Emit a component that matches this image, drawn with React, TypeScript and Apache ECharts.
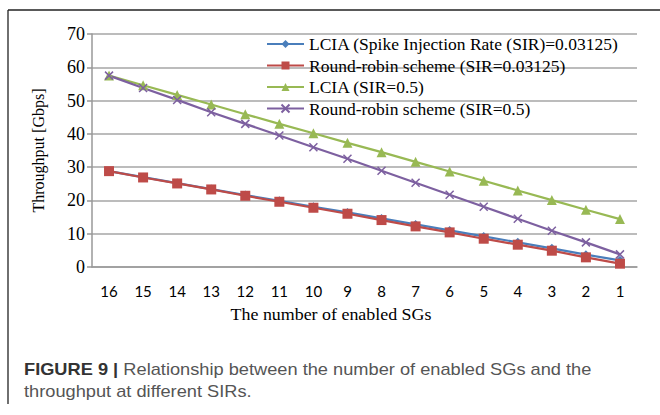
import React, { useEffect, useRef } from "react";
import * as echarts from "echarts";

const categories = ["16", "15", "14", "13", "12", "11", "10", "9", "8", "7", "6", "5", "4", "3", "2", "1"];
const lciaLow = [28.8, 27.0, 25.2, 23.4, 21.6, 19.9, 18.1, 16.4, 14.6, 12.8, 11.0, 9.2, 7.4, 5.6, 3.7, 2.0];
const rrLow = [28.8, 26.9, 25.1, 23.3, 21.4, 19.6, 17.8, 16.0, 14.1, 12.2, 10.4, 8.5, 6.7, 4.9, 2.9, 1.0];
const lciaHigh = [57.5, 54.6, 51.7, 48.8, 45.9, 43.0, 40.2, 37.3, 34.5, 31.6, 28.7, 25.9, 23.0, 20.1, 17.2, 14.4];
const rrHigh = [57.5, 53.8, 50.2, 46.5, 43.0, 39.5, 36.0, 32.5, 28.9, 25.3, 21.7, 18.1, 14.5, 10.9, 7.4, 3.8];
const seriesNames = [
  "LCIA (Spike Injection Rate (SIR)=0.03125)",
  "Round-robin scheme (SIR=0.03125)",
  "LCIA (SIR=0.5)",
  "Round-robin scheme (SIR=0.5)",
];
const yTicks = { min: 0, max: 70, interval: 10 };

const serif = "'Liberation Serif', 'Times New Roman', serif";
const sans = "'Liberation Sans', Arial, sans-serif";
const xSymbol = "path://M0,0L10,10M10,0L0,10";

export default function App() {
  const ref = useRef<HTMLDivElement>(null);
  useEffect(() => {
    document.body.style.margin = "0";
    const chart = echarts.init(ref.current!, undefined, { renderer: "svg" });
    const mk = (name: string, data: number[], color: string, symbol: string, size: number, extra: any = {}) => ({
      name,
      type: "line",
      data,
      symbol,
      symbolSize: size,
      showSymbol: true,
      lineStyle: { color, width: 2.2 },
      itemStyle: { color, ...extra },
      emphasis: { disabled: true },
    });
    chart.setOption({
      animation: false,
      backgroundColor: "#ffffff",
      grid: { left: 92, right: 23, top: 34, bottom: 148 },
      legend: {
        orient: "vertical",
        left: 261,
        top: 30,
        itemWidth: 37,
        itemHeight: 10,
        itemGap: 3.5,
        textStyle: { fontFamily: serif, fontSize: 17.5, color: "#000" },
        data: seriesNames,
      },
      xAxis: {
        type: "category",
        data: categories,
        boundaryGap: true,
        axisLine: { lineStyle: { color: "#999", width: 1.5 } },
        axisTick: { show: false },
        axisLabel: { fontFamily: "Lato, 'Open Sans', sans-serif", fontSize: 15, color: "#000", margin: 16 },
      },
      yAxis: {
        type: "value",
        min: yTicks.min,
        max: yTicks.max,
        interval: yTicks.interval,
        name: "Throughput [Gbps]",
        nameLocation: "middle",
        nameGap: 46,
        nameTextStyle: { fontFamily: serif, fontSize: 16, color: "#000" },
        axisLine: { show: true, lineStyle: { color: "#999", width: 1.5 } },
        axisTick: { show: true, inside: false, length: 5, lineStyle: { color: "#999", width: 1.5 } },
        splitLine: { lineStyle: { color: "#a6a6a6", width: 1.5 } },
        axisLabel: { fontFamily: serif, fontSize: 18, color: "#000", margin: 7 },
      },
      series: [
        mk(seriesNames[0], lciaLow, "#4a7ebb", "diamond", 9),
        mk(seriesNames[1], rrLow, "#be4b48", "rect", 10),
        mk(seriesNames[2], lciaHigh, "#98b954", "triangle", 10),
        mk(seriesNames[3], rrHigh, "#7d60a0", xSymbol, 8, { borderColor: "#7d60a0", borderWidth: 1.5 }),
      ],
      graphic: [
        { type: "line", shape: { x1: 8, y1: 10, x2: 660, y2: 10 }, style: { stroke: "#222", lineWidth: 1.3 } },
        { type: "line", shape: { x1: 8, y1: 10, x2: 8, y2: 404 }, style: { stroke: "#222", lineWidth: 1.3 } },
        {
          type: "text",
          x: 331,
          y: 315,
          scaleX: 1.12,
          style: {
            text: "The number of enabled SGs",
            fontFamily: serif,
            fontSize: 16,
            fill: "#000",
            align: "center",
            verticalAlign: "middle",
          },
        },
        {
          type: "text",
          x: 24,
          y: 369,
          scaleX: 1.14,
          style: {
            text: "{b|FIGURE 9 |} Relationship between the number of enabled SGs and the",
            fontFamily: sans,
            fontSize: 16,
            fill: "#555",
            verticalAlign: "middle",
            rich: {
              b: { fontFamily: sans, fontSize: 16, fontWeight: "bold", fill: "#333" },
            },
          },
        },
        {
          type: "text",
          x: 24,
          y: 391,
          scaleX: 1.14,
          style: {
            text: "throughput at different SIRs.",
            fontFamily: sans,
            fontSize: 16,
            fill: "#555",
            verticalAlign: "middle",
          },
        },
      ],
    });
    return () => chart.dispose();
  }, []);
  return <div ref={ref} style={{ position: "fixed", left: 0, top: 0, width: 660, height: 415 }} />;
}
